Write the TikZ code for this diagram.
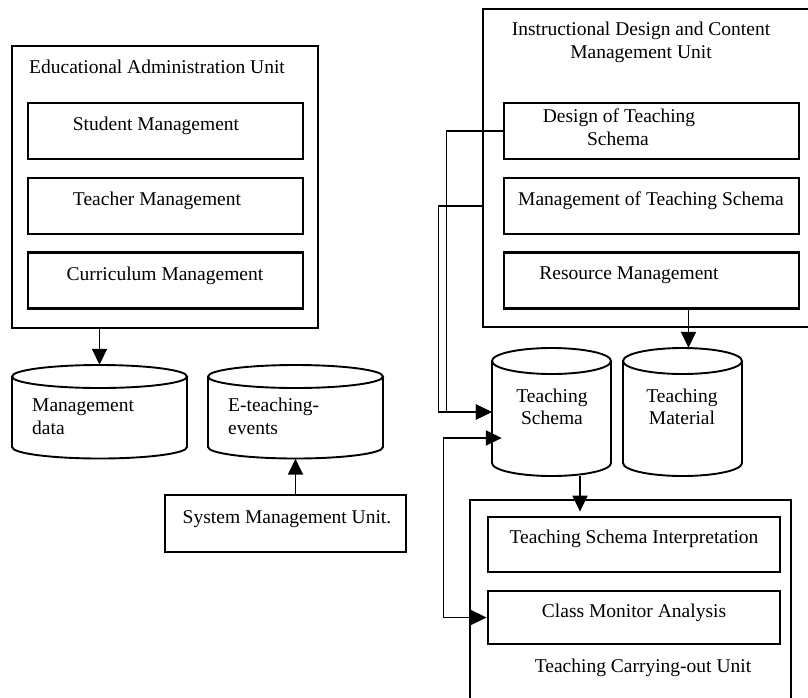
\documentclass[tikz,border=0pt]{standalone}
\usepackage{fontspec}
\setmainfont{Liberation Serif}
\usetikzlibrary{arrows.meta}
\newcommand{\drawcyl}[5]{% cx, cy (top ellipse centre), rx, ry, y where sides end
  \draw[cyl] (#1,#2) ellipse [x radius=#3pt, y radius=#4pt];
  \draw[cyl] (#1-#3,#2) -- (#1-#3,#5) arc[start angle=180,end angle=360,x radius=#3pt,y radius=#4pt] -- (#1+#3,#2);
}
\begin{document}
\begin{tikzpicture}[x=1pt,y=-1pt,
  outbox/.style={draw, line width=2.8pt, inner sep=0pt},
  inbox/.style={draw, line width=2.8pt, inner sep=0pt},
  cylarea/.style={draw=none, inner sep=0pt},
  cyl/.style={line width=1.9pt},
  txt/.style={font=\fontsize{19.5}{22}\selectfont, inner sep=0pt, anchor=base},
  ltxt/.style={font=\fontsize{19.5}{22}\selectfont, inner sep=0pt, anchor=base west},
  arr/.style={line width=1.7pt, -{Triangle[length=16pt,width=15pt]}},
  biarr/.style={line width=1.7pt, {Triangle[length=16pt,width=15pt]}-{Triangle[length=16pt,width=15pt]}}]
\useasboundingbox (0,0) rectangle (808,697);
\clip (0,0) rectangle (808,697);
\fill[white] (0,0) rectangle (808,697);

% Educational Administration Unit
\node[outbox, minimum width=306pt, minimum height=282pt] (eau) at (165,187) {};
\node[txt] (eaut) at (157,73) {Educational Administration Unit};
\node[inbox, minimum width=275pt, minimum height=56pt] (stu) at (165.5,131) {};
\node[txt] (stut) at (156,130) {Student Management};
\node[inbox, minimum width=275pt, minimum height=56pt] (tea) at (165.5,206) {};
\node[txt] (teat) at (157,205) {Teacher Management};
\node[inbox, minimum width=275pt, minimum height=56pt] (cur) at (165.5,280.5) {};
\node[txt] (curt) at (165,280) {Curriculum Management};

% cylinders left
\node[cylarea, minimum width=175pt, minimum height=93.5pt] (mdata) at (99.5,411.75) {};
\drawcyl{99.5}{376.5}{87.5}{11.5}{447}
\node[ltxt] (mdatat1) at (32,411) {Management};
\node[ltxt] (mdatat2) at (32,434) {data};
\node[cylarea, minimum width=175pt, minimum height=93.5pt] (evt) at (295.5,411.75) {};
\drawcyl{295.5}{376.5}{87.5}{11.5}{447}
\node[ltxt] (evtt1) at (228,411) {E-teaching-};
\node[ltxt] (evtt2) at (228,434) {events};

% System Management Unit
\node[inbox, minimum width=241pt, minimum height=57pt] (sys) at (285.5,523.5) {};
\node[txt] (syst) at (287,523) {System Management Unit.};

% Instructional Design and Content Management Unit
\node[outbox, minimum width=347pt, minimum height=318pt] (idc) at (656.5,168) {};
\node[txt] (idct1) at (641,35) {Instructional Design and Content};
\node[txt] (idct2) at (641,58) {Management Unit};
\node[inbox, minimum width=295pt, minimum height=56pt] (des) at (651.5,131) {};
\node[txt] (dest1) at (619,122) {Design of Teaching};
\node[txt] (dest2) at (618,145) {Schema};
\node[inbox, minimum width=295pt, minimum height=56pt] (mgt) at (651.5,206) {};
\node[txt] (mgtt) at (651,205) {Management of Teaching Schema};
\node[inbox, minimum width=295pt, minimum height=56pt] (res) at (651.5,280.5) {};
\node[txt] (rest) at (629,279) {Resource Management};

% cylinders right
\node[cylarea, minimum width=119pt, minimum height=128pt] (ts) at (551.5,412) {};
\drawcyl{551.5}{361}{59.5}{13}{463}
\node[txt] (tst1) at (552,402) {Teaching};
\node[txt] (tst2) at (552,424) {Schema};
\node[cylarea, minimum width=119pt, minimum height=128pt] (mat) at (682.5,412) {};
\drawcyl{682.5}{361}{59.5}{13}{463}
\node[txt] (matt1) at (682,402) {Teaching};
\node[txt] (matt2) at (682,424) {Material};

% Teaching Carrying-out Unit
\node[outbox, minimum width=321pt, minimum height=230pt] (tcu) at (630.5,615) {};
\node[inbox, minimum width=292pt, minimum height=55pt] (itp) at (634,544.5) {};
\node[txt] (itpt) at (634,543) {Teaching Schema Interpretation};
\node[inbox, minimum width=292pt, minimum height=53pt] (cma) at (634,617.5) {};
\node[txt] (cmat) at (634,617) {Class Monitor Analysis};
\node[txt] (tcut) at (643,672) {Teaching Carrying-out Unit};

% connectors
\draw[arr] (eau.south -| mdata.north) -- (mdata.north);
\draw[arr] (sys.north -| evt.south) -- (evt.south);
\draw[arr] ([xshift=6pt]mat.north |- res.south) -- ([xshift=6pt]mat.north);
\draw[arr] ([xshift=28.5pt]ts.south) -- ([xshift=28.5pt,yshift=-13pt]ts.south |- tcu.north);
\draw[arr] (des.west) -- ++(-56,0) |- (ts.west);
\draw[arr] (mgt.west -| idc.west) -- ++(-43,0) |- (ts.west);
\draw[biarr] (cma.west) -- ++(-43,0) |- ([shift={(10pt,-26pt)}]ts.west);
\end{tikzpicture}
\end{document}
